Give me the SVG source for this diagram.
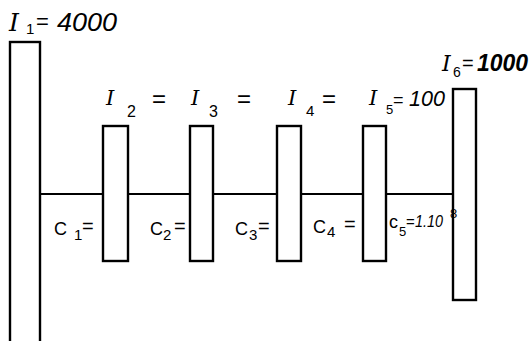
<svg xmlns="http://www.w3.org/2000/svg" width="529" height="341" viewBox="0 0 529 341">
<style>
.box{fill:#fff;stroke:#000;stroke-width:2.4}
.shaft{stroke:#000;stroke-width:2;fill:none}
.I{font-family:"DejaVu Serif",serif;font-style:italic;fill:#000}
.n{font-family:"Liberation Sans",sans-serif;font-style:italic;fill:#000}
.c{font-family:"Liberation Sans",sans-serif;fill:#000}
</style>
<rect width="529" height="341" fill="#fff"/>
<g id="connectors">
<line class="shaft" x1="40" y1="194" x2="103" y2="194"/>
<line class="shaft" x1="128" y1="194" x2="190" y2="194"/>
<line class="shaft" x1="213" y1="194" x2="277" y2="194"/>
<line class="shaft" x1="301" y1="194" x2="363" y2="194"/>
<line class="shaft" x1="386" y1="194" x2="453" y2="194"/>
</g>
<g id="I1">
<rect class="box" x="10" y="42" width="30" height="310"/>
<text class="I" x="9" y="31" font-size="25">I</text>
<text class="c" x="26" y="34" font-size="15">1</text>
<text class="c" x="36" y="29" font-size="22">=</text>
<text class="n" x="57" y="31" font-size="25" textLength="60" lengthAdjust="spacingAndGlyphs">4000</text>
</g>
<g id="I2">
<rect class="box" x="103" y="126" width="25" height="135"/>
<text class="I" x="106" y="105" font-size="21">I</text>
<text class="c" x="127" y="117" font-size="16">2</text>
<text class="c" x="152" y="107" font-size="24">=</text>
</g>
<g id="I3">
<rect class="box" x="190" y="126" width="23" height="135"/>
<text class="I" x="191" y="105" font-size="21">I</text>
<text class="c" x="209" y="117" font-size="16">3</text>
<text class="c" x="237" y="107" font-size="24">=</text>
</g>
<g id="I4">
<rect class="box" x="277" y="126" width="24" height="135"/>
<text class="I" x="288" y="105" font-size="21">I</text>
<text class="c" x="306" y="116" font-size="15">4</text>
<text class="c" x="322" y="107" font-size="24">=</text>
</g>
<g id="I5">
<rect class="box" x="363" y="126" width="23" height="135"/>
<text class="I" x="369" y="105" font-size="21">I</text>
<text class="c" x="386" y="114" font-size="13">5</text>
<text class="c" x="393" y="106" font-size="18">=</text>
<text class="n" x="409" y="106" font-size="22" textLength="36" lengthAdjust="spacingAndGlyphs">100</text>
</g>
<g id="I6">
<rect class="box" x="453" y="89" width="23" height="211"/>
<text class="I" x="442" y="71" font-size="22">I</text>
<text class="c" x="453" y="77" font-size="14">6</text>
<text class="c" x="462" y="70" font-size="20">=</text>
<text class="n" x="477" y="71" font-size="23" font-weight="bold" textLength="51" lengthAdjust="spacingAndGlyphs">1000</text>
</g>
<g id="C1">
<text class="c" x="54" y="235" font-size="18">C</text>
<text class="c" x="74" y="240" font-size="15">1</text>
<text class="c" x="82" y="233" font-size="20">=</text>
</g>
<g id="C2">
<text class="c" x="150" y="235" font-size="18">C</text>
<text class="c" x="163" y="240" font-size="15">2</text>
<text class="c" x="174" y="233" font-size="20">=</text>
</g>
<g id="C3">
<text class="c" x="235" y="235" font-size="18">C</text>
<text class="c" x="249" y="240" font-size="15">3</text>
<text class="c" x="258" y="233" font-size="20">=</text>
</g>
<g id="C4">
<text class="c" x="313" y="233" font-size="18">C</text>
<text class="c" x="327" y="237" font-size="15">4</text>
<text class="c" x="344" y="231" font-size="20">=</text>
</g>
<g id="C5">
<text class="c" x="389" y="228" font-size="18">c</text>
<text class="c" x="399" y="236" font-size="13">5</text>
<text class="c" x="406" y="227" font-size="15">=</text>
<text class="n" x="415" y="227" font-size="17" textLength="28" lengthAdjust="spacingAndGlyphs">1.10</text>
<text class="c" x="450" y="218" font-size="13">8</text>
</g>
</svg>
